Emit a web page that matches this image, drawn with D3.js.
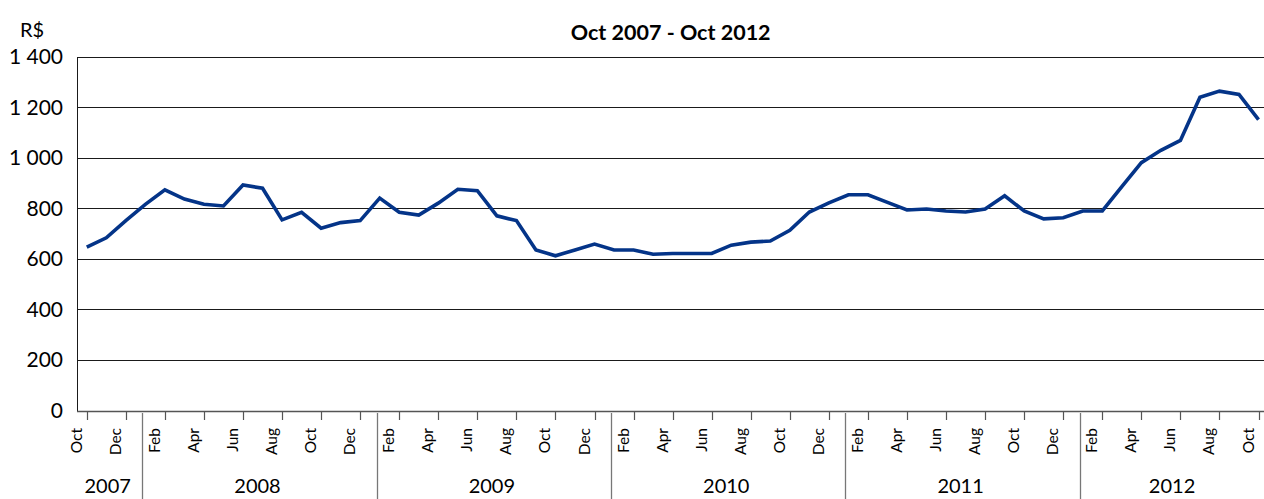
<!DOCTYPE html>
<html>
<head>
<meta charset="utf-8">
<script src="https://cdn.jsdelivr.net/npm/d3@7"></script>
<style>
  html, body { margin: 0; padding: 0; background: #fff; overflow: hidden; }
  svg { display: block; font-family: Lato, "Open Sans", sans-serif; }
</style>
</head>
<body>
<svg id="chart" width="1264" height="499"></svg>
<script>
const categories = [
  "2007-10","2007-11","2007-12",
  "2008-01","2008-02","2008-03","2008-04","2008-05","2008-06","2008-07","2008-08","2008-09","2008-10","2008-11","2008-12",
  "2009-01","2009-02","2009-03","2009-04","2009-05","2009-06","2009-07","2009-08","2009-09","2009-10","2009-11","2009-12",
  "2010-01","2010-02","2010-03","2010-04","2010-05","2010-06","2010-07","2010-08","2010-09","2010-10","2010-11","2010-12",
  "2011-01","2011-02","2011-03","2011-04","2011-05","2011-06","2011-07","2011-08","2011-09","2011-10","2011-11","2011-12",
  "2012-01","2012-02","2012-03","2012-04","2012-05","2012-06","2012-07","2012-08","2012-09","2012-10"
];
const values = [
  646, 683, 751,
  815, 873, 836, 816, 809, 892, 879, 754, 784, 721, 743, 751,
  840, 784, 773, 820, 875, 869, 770, 751, 635, 612, 635, 658,
  635, 635, 618, 621, 621, 621, 654, 666, 670, 713, 785, 821,
  853, 853, 823, 793, 797, 789, 785, 797, 849, 789, 758, 762,
  789, 789, 885, 980, 1029, 1068, 1239, 1263, 1250, 1150
];
const monthNames = ["Jan","Feb","Mar","Apr","May","Jun","Jul","Aug","Sep","Oct","Nov","Dec"];
const years = ["2007","2008","2009","2010","2011","2012"];
const yTicks = [0, 200, 400, 600, 800, 1000, 1200, 1400];
const title = "Oct 2007 - Oct 2012";
const unitLabel = "R$";

(function () {
const svg = d3.select("#chart");
const pL = 77, pR = 1268.3, pT = 56.5, pB = 410.5;

const x = d3.scaleBand().domain(categories).range([pL, pR]).paddingInner(0).paddingOuter(0);
const cx = c => x(c) + x.bandwidth() / 2;
const y = d3.scaleLinear().domain([0, 1400]).range([pB, pT]);

const fmt = v => d3.format(",")(v).replace(/,/g, " ");

// gridlines
svg.append("g").selectAll("line").data(yTicks.filter(t => t > 0)).join("line")
  .attr("x1", pL).attr("x2", 1264)
  .attr("y1", d => Math.round(y(d)) + 0.5).attr("y2", d => Math.round(y(d)) + 0.5)
  .attr("stroke", "#1a1a1a").attr("stroke-width", 1);

// y axis line
svg.append("line").attr("x1", pL + 0.5).attr("x2", pL + 0.5)
  .attr("y1", Math.round(y(1400)) + 0.5).attr("y2", Math.round(y(0)) + 0.5)
  .attr("stroke", "#1a1a1a");
// x axis line
svg.append("line").attr("x1", pL).attr("x2", 1264)
  .attr("y1", Math.round(y(0)) + 0.5).attr("y2", Math.round(y(0)) + 0.5)
  .attr("stroke", "#555").attr("stroke-width", 1.3);

// y tick labels
svg.append("g").selectAll("text").data(yTicks).join("text")
  .attr("x", 63).attr("y", d => y(d)).attr("dy", "0.36em")
  .attr("text-anchor", "end").attr("font-size", 21).attr("fill", "#000")
  .text(d => fmt(d));

// unit label
svg.append("text").attr("x", 20).attr("y", 37).attr("font-size", 20).attr("fill", "#000").text(unitLabel);

// title
svg.append("text").attr("x", (pL + pR) / 2 - 2).attr("y", 40).attr("text-anchor", "middle")
  .attr("font-size", 21.5).attr("font-weight", "bold").attr("fill", "#000").text(title);

// month ticks and labels (every 2nd month)
const tickCats = categories.filter((c, i) => i % 2 === 0);
svg.append("g").selectAll("line").data(tickCats).join("line")
  .attr("x1", d => Math.round(cx(d)) + 0.5).attr("x2", d => Math.round(cx(d)) + 0.5)
  .attr("y1", 412).attr("y2", 420)
  .attr("stroke", "#555").attr("stroke-width", 1.2);
svg.append("g").selectAll("text").data(tickCats).join("text")
  .attr("transform", d => `translate(${cx(d) - 5},428) rotate(-90)`)
  .attr("text-anchor", "end").attr("font-size", 15.5).attr("fill", "#000")
  .text(d => monthNames[+d.slice(5, 7) - 1]);

// year separators & labels
const yearBounds = years.map(yr => {
  const cats = categories.filter(c => c.startsWith(yr));
  return { yr, first: cats[0], last: cats[cats.length - 1] };
});
const sepX = b => cx(b.first) - 3;
svg.append("g").selectAll("line").data(yearBounds.slice(1)).join("line")
  .attr("x1", d => Math.round(sepX(d)) + 0.5).attr("x2", d => Math.round(sepX(d)) + 0.5)
  .attr("y1", 413).attr("y2", 499)
  .attr("stroke", "#777").attr("stroke-width", 1.3);
svg.append("g").selectAll("text").data(yearBounds).join("text")
  .attr("x", (d, i) => {
    const l = i === 0 ? pL : sepX(d);
    const r = i === yearBounds.length - 1 ? pR : sepX(yearBounds[i + 1]);
    return (l + r) / 2 - 2;
  })
  .attr("y", 493).attr("text-anchor", "middle").attr("font-size", 20).attr("fill", "#000")
  .text(d => d.yr);

// line
const line = d3.line().x((d, i) => cx(categories[i])).y(d => y(d));
svg.append("path").datum(values).attr("d", line)
  .attr("fill", "none").attr("stroke", "#043488").attr("stroke-width", 3.6)
  .attr("stroke-linejoin", "miter");
})();
</script>
</body>
</html>
